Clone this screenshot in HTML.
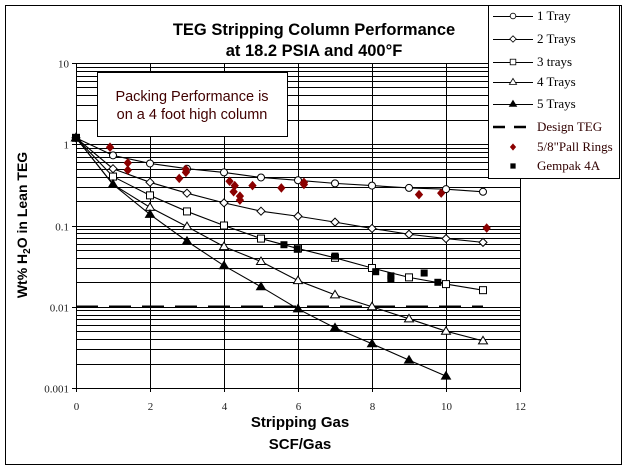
<!DOCTYPE html>
<html><head><meta charset="utf-8"><style>
body{margin:0;background:#fff}
svg{display:block;font-family:"Liberation Sans",sans-serif}
.tk{font-family:"Liberation Serif",serif;font-size:11px;fill:#222}
</style></head><body>
<svg width="626" height="470" viewBox="0 0 626 470">
<rect x="5.5" y="5.5" width="616" height="459" fill="#fff" stroke="#000"/>
<g id="grid"></g>
<g id="series"></g>
<rect x="97.5" y="72.5" width="190" height="64" fill="#fff" stroke="#000"/>
<text x="192" y="101" text-anchor="middle" font-size="14.5" fill="#400000">Packing Performance is</text>
<text x="192" y="119" text-anchor="middle" font-size="14.5" fill="#400000">on a 4 foot high column</text>
<text x="314" y="35" text-anchor="middle" font-size="16.5" font-weight="bold">TEG Stripping Column Performance</text>
<text x="314" y="56" text-anchor="middle" font-size="16.5" font-weight="bold">at 18.2 PSIA and 400°F</text>
<text transform="translate(27,225) rotate(-90)" text-anchor="middle" font-size="14" font-weight="bold">Wt% H<tspan font-size="10" dy="3">2</tspan><tspan dy="-3">O in Lean TEG</tspan></text>
<text x="300" y="427" text-anchor="middle" font-size="15" font-weight="bold">Stripping Gas</text>
<text x="300" y="449" text-anchor="middle" font-size="15" font-weight="bold">SCF/Gas</text>
<g id="legend"></g>
</svg>
<script>
const xs=[0,1,2,3,4,5,6,7,8,9,10,11];
const tray1=[1.2,0.73,0.58,0.50,0.45,0.39,0.36,0.33,0.31,0.29,0.28,0.26];
const tray2=[1.2,0.50,0.34,0.25,0.19,0.15,0.13,0.11,0.092,0.078,0.069,0.062];
const tray3=[1.2,0.40,0.235,0.149,0.10,0.069,0.052,0.040,0.030,0.023,0.019,0.016];
const tray4=[1.2,0.32,0.167,0.097,0.055,0.036,0.021,0.014,0.010,0.0071,0.005,0.0038];
const tray5x=[0,1,2,3,4,5,6,7,8,9,10];
const tray5=[1.2,0.32,0.137,0.064,0.032,0.0176,0.0094,0.0055,0.0035,0.0022,0.0014];
const designTEG=0.01;
const pallX=[0.92,1.4,1.4,2.97,2.97,2.79,4.15,4.29,4.26,4.43,4.43,4.77,5.55,6.16,6.16,9.27,9.87,11.1];
const pallY=[0.92,0.59,0.48,0.49,0.45,0.38,0.35,0.31,0.26,0.23,0.205,0.31,0.29,0.34,0.32,0.24,0.25,0.093];
const gemX=[0,5.62,5.98,7.0,8.1,8.51,8.51,9.41,9.78];
const gemY=[1.2,0.058,0.051,0.042,0.027,0.024,0.022,0.026,0.020];
const xTicks=[0,2,4,6,8,10,12];
const yTicks=[10,1,0.1,0.01,0.001];
const yTickLabels=["10","1","0.1","0.01","0.001"];
const legendLabels=["1 Tray","2 Trays","3 trays","4 Trays","5 Trays","Design TEG",'5/8"Pall Rings',"Gempak 4A"];

const NS="http://www.w3.org/2000/svg";
const X0=76,X1=520,Y0=388,Y1=63;
const sx=v=>X0+(v-0)/12*(X1-X0);
const sy=v=>Y0-(Math.log10(v)+3)/4*(Y0-Y1);
function mk(p,t,a){const e=document.createElementNS(NS,t);for(const k in a)e.setAttribute(k,a[k]);p.appendChild(e);return e;}
const grid=document.getElementById('grid'),ser=document.getElementById('series'),leg=document.getElementById('legend');
for(let d=-3;d<1;d++)for(let m=1;m<10;m++){const v=m*Math.pow(10,d);const y=Math.round(sy(v))+0.5;
 const l=mk(grid,'line',{x1:X0,x2:X1,y1:y,y2:y,stroke:'#000','stroke-width':1});
 
 }
for(const t of xTicks){const x=Math.round(sx(t))+0.5;
 const l=mk(grid,'line',{x1:x,x2:x,y1:Y1,y2:Y0+4,stroke:'#000','stroke-width':1});
 
 
 const tx=mk(grid,'text',{x:x,y:Y0+22,'text-anchor':'middle',class:'tk'});tx.textContent=t;
 
 }
mk(grid,'line',{x1:X0,x2:X1,y1:Y1+0.5,y2:Y1+0.5,stroke:'#000'});
yTicks.forEach((t,i)=>{const y=Math.round(sy(t))+0.5;
 mk(grid,'line',{x1:X0-4,x2:X0,y1:y,y2:y,stroke:'#000'});
 const tx=mk(grid,'text',{x:X0-7,y:y+4,'text-anchor':'end',class:'tk'});tx.textContent=yTickLabels[i];
 
 });
const dl=mk(ser,'line',{x1:sx(0),x2:sx(11),y1:sy(designTEG),y2:sy(designTEG),stroke:'#000','stroke-width':2.5,'stroke-dasharray':'22,11'});


function marker(g,kind,x,y){
 if(kind==='circle')return mk(g,'circle',{cx:x,cy:y,r:3.5,fill:'#fff',stroke:'#000'});
 if(kind==='diamond')return mk(g,'path',{d:`M${x} ${y-4}L${x+4} ${y}L${x} ${y+4}L${x-4} ${y}Z`,fill:'#fff',stroke:'#000'});
 if(kind==='square')return mk(g,'rect',{x:x-3.5,y:y-3.5,width:7,height:7,fill:'#fff',stroke:'#000'});
 if(kind==='tri')return mk(g,'path',{d:`M${x} ${y-4.5}L${x+4.5} ${y+3}L${x-4.5} ${y+3}Z`,fill:'#fff',stroke:'#000'});
 if(kind==='trif')return mk(g,'path',{d:`M${x} ${y-4.5}L${x+4.5} ${y+3}L${x-4.5} ${y+3}Z`,fill:'#000',stroke:'#000'});
 if(kind==='red')return mk(g,'path',{d:`M${x} ${y-4}L${x+3.5} ${y}L${x} ${y+4}L${x-3.5} ${y}Z`,fill:'#8b0000',stroke:'#8b0000'});
 if(kind==='blk')return mk(g,'rect',{x:x-3.5,y:y-3.5,width:7,height:7,fill:'#000'});
}
const lines=[[xs,tray1,'circle','tray-1'],[xs,tray2,'diamond','tray-2'],[xs,tray3,'square','tray-3'],[xs,tray4,'tri','tray-4'],[tray5x,tray5,'trif','tray-5']];
for(const [X,Y,k,n] of lines){
 const g=mk(ser,'g',{});
 
 
 const pl=mk(g,'polyline',{points:X.map((x,i)=>sx(x)+','+sy(Y[i])).join(' '),fill:'none',stroke:'#000','stroke-width':1.1});
 
 
 X.forEach((x,i)=>{const m=marker(g,k,sx(x),sy(Y[i]));
  
  });
}
pallX.forEach((x,i)=>{const m=marker(ser,'red',sx(x),sy(pallY[i]));
 
 });
gemX.forEach((x,i)=>{const m=marker(ser,'blk',sx(x),sy(gemY[i]));
 
 });
mk(leg,'rect',{x:488.5,y:5.5,width:131,height:173,fill:'#fff',stroke:'#000'});
const ly=[16,39,62,82,104,127,147,166];
const lk=['circle','diamond','square','tri','trif',null,'red','blk'];
legendLabels.forEach((t,i)=>{
 const y=ly[i];
 if(i<5)mk(leg,'line',{x1:493,x2:533,y1:y+0.5,y2:y+0.5,stroke:'#000'});
 if(i===5)mk(leg,'line',{x1:493,x2:533,y1:y,y2:y,stroke:'#000','stroke-width':2.5,'stroke-dasharray':'12,9'});
 if(lk[i]){const s=(i<5)?0.8:0.75;const m=marker(leg,lk[i],513,y);m.setAttribute('transform',`translate(513 ${y}) scale(${s}) translate(-513 ${-y})`);}
 const tx=mk(leg,'text',{x:537,y:y+4,'font-family':'Liberation Serif,serif','font-size':13,fill:i>=5?'#300000':'#000'});
 tx.textContent=t;
 
 
});
</script>
</body></html>
